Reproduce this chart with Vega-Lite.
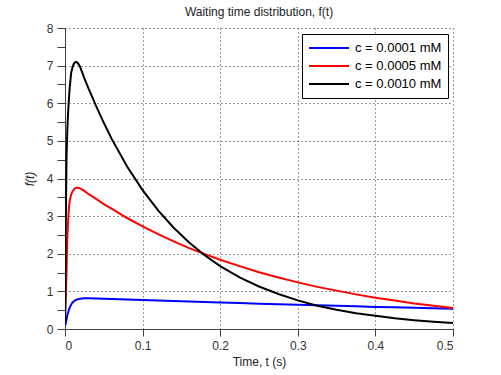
{
  "$schema": "https://vega.github.io/schema/vega-lite/v6.json",
  "width": 388,
  "height": 301,
  "autosize": {"type": "none"},
  "padding": {"left": 65, "top": 28, "right": 48, "bottom": 46},
  "background": "white",
  "config": {
    "view": {"stroke": null},
    "font": "Liberation Sans",
    "axis": {
      "domainColor": "#404040",
      "tickColor": "#404040",
      "labelColor": "#333333",
      "titleColor": "#222222",
      "labelFont": "Liberation Sans",
      "titleFont": "Liberation Sans",
      "labelFontSize": 12,
      "titleFontSize": 12,
      "titleFontWeight": "normal",
      "gridColor": "#333333",
      "gridDash": [1, 3],
      "gridWidth": 1,
      "tickSize": 7
    }
  },
  "title": {
    "text": "Waiting time distribution, f(t)",
    "fontSize": 12,
    "fontWeight": "normal",
    "font": "Liberation Sans",
    "color": "#222222",
    "anchor": "middle",
    "offset": 3
  },
  "data": {
    "values": [
      {"t": 0.0003, "f": 0.10, "c": "c = 0.0001 mM"},
      {"t": 0.001, "f": 0.15, "c": "c = 0.0001 mM"},
      {"t": 0.002, "f": 0.26, "c": "c = 0.0001 mM"},
      {"t": 0.003, "f": 0.36, "c": "c = 0.0001 mM"},
      {"t": 0.004, "f": 0.44, "c": "c = 0.0001 mM"},
      {"t": 0.005, "f": 0.51, "c": "c = 0.0001 mM"},
      {"t": 0.006, "f": 0.57, "c": "c = 0.0001 mM"},
      {"t": 0.008, "f": 0.65, "c": "c = 0.0001 mM"},
      {"t": 0.010, "f": 0.71, "c": "c = 0.0001 mM"},
      {"t": 0.012, "f": 0.745, "c": "c = 0.0001 mM"},
      {"t": 0.014, "f": 0.771, "c": "c = 0.0001 mM"},
      {"t": 0.016, "f": 0.788, "c": "c = 0.0001 mM"},
      {"t": 0.018, "f": 0.799, "c": "c = 0.0001 mM"},
      {"t": 0.020, "f": 0.806, "c": "c = 0.0001 mM"},
      {"t": 0.025, "f": 0.814, "c": "c = 0.0001 mM"},
      {"t": 0.030, "f": 0.815, "c": "c = 0.0001 mM"},
      {"t": 0.040, "f": 0.810, "c": "c = 0.0001 mM"},
      {"t": 0.050, "f": 0.803, "c": "c = 0.0001 mM"},
      {"t": 0.060, "f": 0.796, "c": "c = 0.0001 mM"},
      {"t": 0.080, "f": 0.782, "c": "c = 0.0001 mM"},
      {"t": 0.100, "f": 0.768, "c": "c = 0.0001 mM"},
      {"t": 0.120, "f": 0.755, "c": "c = 0.0001 mM"},
      {"t": 0.140, "f": 0.742, "c": "c = 0.0001 mM"},
      {"t": 0.160, "f": 0.729, "c": "c = 0.0001 mM"},
      {"t": 0.180, "f": 0.716, "c": "c = 0.0001 mM"},
      {"t": 0.200, "f": 0.703, "c": "c = 0.0001 mM"},
      {"t": 0.225, "f": 0.688, "c": "c = 0.0001 mM"},
      {"t": 0.250, "f": 0.672, "c": "c = 0.0001 mM"},
      {"t": 0.275, "f": 0.658, "c": "c = 0.0001 mM"},
      {"t": 0.300, "f": 0.643, "c": "c = 0.0001 mM"},
      {"t": 0.325, "f": 0.629, "c": "c = 0.0001 mM"},
      {"t": 0.350, "f": 0.615, "c": "c = 0.0001 mM"},
      {"t": 0.375, "f": 0.602, "c": "c = 0.0001 mM"},
      {"t": 0.400, "f": 0.588, "c": "c = 0.0001 mM"},
      {"t": 0.425, "f": 0.575, "c": "c = 0.0001 mM"},
      {"t": 0.450, "f": 0.563, "c": "c = 0.0001 mM"},
      {"t": 0.475, "f": 0.550, "c": "c = 0.0001 mM"},
      {"t": 0.500, "f": 0.538, "c": "c = 0.0001 mM"},

      {"t": 0.0003, "f": 0.50, "c": "c = 0.0005 mM"},
      {"t": 0.001, "f": 0.88, "c": "c = 0.0005 mM"},
      {"t": 0.002, "f": 1.56, "c": "c = 0.0005 mM"},
      {"t": 0.003, "f": 2.40, "c": "c = 0.0005 mM"},
      {"t": 0.004, "f": 2.90, "c": "c = 0.0005 mM"},
      {"t": 0.005, "f": 3.20, "c": "c = 0.0005 mM"},
      {"t": 0.006, "f": 3.40, "c": "c = 0.0005 mM"},
      {"t": 0.008, "f": 3.58, "c": "c = 0.0005 mM"},
      {"t": 0.010, "f": 3.67, "c": "c = 0.0005 mM"},
      {"t": 0.012, "f": 3.72, "c": "c = 0.0005 mM"},
      {"t": 0.014, "f": 3.75, "c": "c = 0.0005 mM"},
      {"t": 0.016, "f": 3.76, "c": "c = 0.0005 mM"},
      {"t": 0.018, "f": 3.75, "c": "c = 0.0005 mM"},
      {"t": 0.020, "f": 3.73, "c": "c = 0.0005 mM"},
      {"t": 0.025, "f": 3.67, "c": "c = 0.0005 mM"},
      {"t": 0.030, "f": 3.59, "c": "c = 0.0005 mM"},
      {"t": 0.040, "f": 3.46, "c": "c = 0.0005 mM"},
      {"t": 0.050, "f": 3.32, "c": "c = 0.0005 mM"},
      {"t": 0.060, "f": 3.20, "c": "c = 0.0005 mM"},
      {"t": 0.080, "f": 2.95, "c": "c = 0.0005 mM"},
      {"t": 0.100, "f": 2.73, "c": "c = 0.0005 mM"},
      {"t": 0.120, "f": 2.52, "c": "c = 0.0005 mM"},
      {"t": 0.140, "f": 2.33, "c": "c = 0.0005 mM"},
      {"t": 0.160, "f": 2.15, "c": "c = 0.0005 mM"},
      {"t": 0.180, "f": 1.99, "c": "c = 0.0005 mM"},
      {"t": 0.200, "f": 1.84, "c": "c = 0.0005 mM"},
      {"t": 0.225, "f": 1.67, "c": "c = 0.0005 mM"},
      {"t": 0.250, "f": 1.51, "c": "c = 0.0005 mM"},
      {"t": 0.275, "f": 1.37, "c": "c = 0.0005 mM"},
      {"t": 0.300, "f": 1.24, "c": "c = 0.0005 mM"},
      {"t": 0.325, "f": 1.12, "c": "c = 0.0005 mM"},
      {"t": 0.350, "f": 1.02, "c": "c = 0.0005 mM"},
      {"t": 0.375, "f": 0.92, "c": "c = 0.0005 mM"},
      {"t": 0.400, "f": 0.83, "c": "c = 0.0005 mM"},
      {"t": 0.425, "f": 0.76, "c": "c = 0.0005 mM"},
      {"t": 0.450, "f": 0.68, "c": "c = 0.0005 mM"},
      {"t": 0.475, "f": 0.62, "c": "c = 0.0005 mM"},
      {"t": 0.500, "f": 0.56, "c": "c = 0.0005 mM"},

      {"t": 0.0003, "f": 0.20, "c": "c = 0.0010 mM"},
      {"t": 0.001, "f": 2.80, "c": "c = 0.0010 mM"},
      {"t": 0.002, "f": 4.60, "c": "c = 0.0010 mM"},
      {"t": 0.003, "f": 5.30, "c": "c = 0.0010 mM"},
      {"t": 0.004, "f": 5.75, "c": "c = 0.0010 mM"},
      {"t": 0.005, "f": 6.10, "c": "c = 0.0010 mM"},
      {"t": 0.006, "f": 6.40, "c": "c = 0.0010 mM"},
      {"t": 0.008, "f": 6.82, "c": "c = 0.0010 mM"},
      {"t": 0.010, "f": 6.98, "c": "c = 0.0010 mM"},
      {"t": 0.012, "f": 7.07, "c": "c = 0.0010 mM"},
      {"t": 0.014, "f": 7.10, "c": "c = 0.0010 mM"},
      {"t": 0.016, "f": 7.08, "c": "c = 0.0010 mM"},
      {"t": 0.018, "f": 7.02, "c": "c = 0.0010 mM"},
      {"t": 0.020, "f": 6.94, "c": "c = 0.0010 mM"},
      {"t": 0.025, "f": 6.66, "c": "c = 0.0010 mM"},
      {"t": 0.030, "f": 6.41, "c": "c = 0.0010 mM"},
      {"t": 0.040, "f": 5.93, "c": "c = 0.0010 mM"},
      {"t": 0.050, "f": 5.48, "c": "c = 0.0010 mM"},
      {"t": 0.060, "f": 5.06, "c": "c = 0.0010 mM"},
      {"t": 0.080, "f": 4.32, "c": "c = 0.0010 mM"},
      {"t": 0.100, "f": 3.69, "c": "c = 0.0010 mM"},
      {"t": 0.120, "f": 3.15, "c": "c = 0.0010 mM"},
      {"t": 0.140, "f": 2.69, "c": "c = 0.0010 mM"},
      {"t": 0.160, "f": 2.30, "c": "c = 0.0010 mM"},
      {"t": 0.180, "f": 1.96, "c": "c = 0.0010 mM"},
      {"t": 0.200, "f": 1.67, "c": "c = 0.0010 mM"},
      {"t": 0.225, "f": 1.37, "c": "c = 0.0010 mM"},
      {"t": 0.250, "f": 1.13, "c": "c = 0.0010 mM"},
      {"t": 0.275, "f": 0.93, "c": "c = 0.0010 mM"},
      {"t": 0.300, "f": 0.76, "c": "c = 0.0010 mM"},
      {"t": 0.325, "f": 0.62, "c": "c = 0.0010 mM"},
      {"t": 0.350, "f": 0.51, "c": "c = 0.0010 mM"},
      {"t": 0.375, "f": 0.42, "c": "c = 0.0010 mM"},
      {"t": 0.400, "f": 0.35, "c": "c = 0.0010 mM"},
      {"t": 0.425, "f": 0.285, "c": "c = 0.0010 mM"},
      {"t": 0.450, "f": 0.235, "c": "c = 0.0010 mM"},
      {"t": 0.475, "f": 0.195, "c": "c = 0.0010 mM"},
      {"t": 0.500, "f": 0.162, "c": "c = 0.0010 mM"}
    ]
  },
  "mark": {"type": "line", "strokeWidth": 2, "clip": true},
  "encoding": {
    "x": {
      "field": "t",
      "type": "quantitative",
      "scale": {"domain": [0, 0.5], "nice": false, "zero": false},
      "axis": {
        "values": [0, 0.1, 0.2, 0.3, 0.4, 0.5],
        "format": "~g",
        "title": "Time, t (s)",
        "grid": true,
        "labelPadding": 4,
        "titlePadding": 5
      }
    },
    "y": {
      "field": "f",
      "type": "quantitative",
      "scale": {"domain": [0, 8], "nice": false},
      "axis": {
        "values": [0, 0.5, 1, 1.5, 2, 2.5, 3, 3.5, 4, 4.5, 5, 5.5, 6, 6.5, 7, 7.5, 8],
        "labelExpr": "datum.value % 1 === 0 ? format(datum.value, 'd') : ''",
        "title": "f(t)",
        "titleFontStyle": "italic",
        "grid": true,
        "gridOpacity": {"condition": {"test": "datum.value % 1 === 0", "value": 1}, "value": 0},
        "tickSize": 8,
        "labelPadding": 4,
        "titlePadding": 10
      }
    },
    "color": {
      "field": "c",
      "type": "nominal",
      "scale": {
        "domain": ["c = 0.0001 mM", "c = 0.0005 mM", "c = 0.0010 mM"],
        "range": ["#0000ff", "#ff0000", "#000000"]
      },
      "legend": {
        "title": null,
        "orient": "none",
        "legendX": 237,
        "legendY": 6,
        "padding": 6,
        "strokeColor": "#000000",
        "fillColor": "#ffffff",
        "symbolType": "stroke",
        "symbolSize": 1600,
        "symbolStrokeWidth": 2,
        "clipHeight": 16,
        "rowPadding": 2,
        "labelOffset": 5,
        "labelFontSize": 13,
        "labelFont": "Liberation Sans",
        "labelColor": "#000000"
      }
    }
  }
}
